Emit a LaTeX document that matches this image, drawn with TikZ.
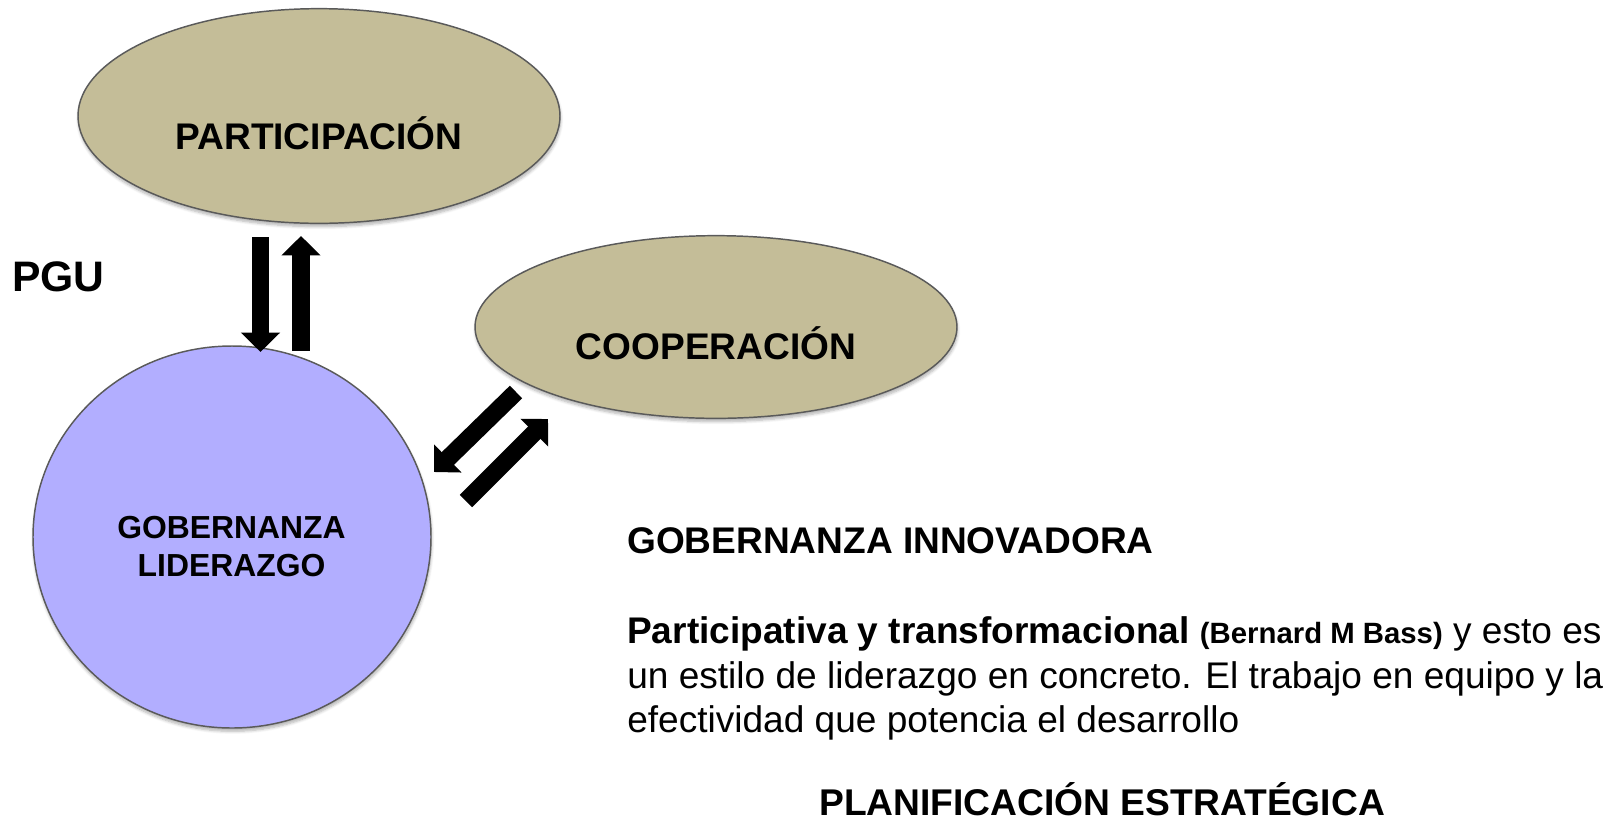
\documentclass[tikz,border=0pt]{standalone}
\usepackage{fontspec}
\setmainfont{Liberation Sans}
\usetikzlibrary{shapes.geometric,arrows.meta,shadows.blur}

\begin{document}
\begin{tikzpicture}[x=0.75pt,y=0.75pt,yscale=-1,xscale=1,
    topic/.style={ellipse, inner sep=0pt, draw={rgb, 255:red, 90; green, 90; blue, 90}, line width=1.1pt,
        fill={rgb, 255:red, 196; green, 189; blue, 152},
        blur shadow={shadow xshift=0.5pt, shadow yshift=-2.5pt, shadow opacity=30, shadow blur steps=6}},
    leader/.style={topic, fill={rgb, 255:red, 178; green, 174; blue, 255}},
    biglbl/.style={anchor=base, inner sep=0pt, font=\bfseries\fontsize{27.8}{33}\selectfont},
    smalllbl/.style={anchor=base, inner sep=0pt, font=\bfseries\fontsize{23.9}{28.5}\selectfont},
    txt/.style={anchor=base west, inner sep=0pt, font=\fontsize{27.8}{33.4}\selectfont},
    blockarrow/.style={line width=13.2pt, -{Triangle[length=14.5pt,width=28.5pt]}}
]
\useasboundingbox (0,0) rectangle (1620,822);

%Ellipses
\node [topic, minimum width=361.5pt, minimum height=161pt] (part) at (319,116) {};
\node [topic, minimum width=361.5pt, minimum height=137pt] (coop) at (716,327) {};
\node [leader, minimum width=298.5pt, minimum height=286.5pt] (gob) at (232,537) {};

% Text Node
\node [biglbl] (partlbl) at (319,149) {PARTICIPACIÓN};
\node [biglbl] (cooplbl) at (716,359) {COOPERACIÓN};
\node [smalllbl] (gob1) at (231.5,538) {GOBERNANZA};
\node [smalllbl] (gob2) at (231.5,576) {LIDERAZGO};
\node [txt, font=\bfseries\fontsize{32}{38}\selectfont] (pgu) at (12,291) {PGU};

\node [txt, font=\bfseries\fontsize{27.8}{33}\selectfont] (innov) at (627,553) {GOBERNANZA INNOVADORA};
\node [txt] (par1) at (627,643) {\textbf{Participativa y transformacional} {\bfseries\fontsize{22}{26}\selectfont (Bernard M Bass)} y esto es};
\node [txt] (par2) at (627,688) {un estilo de liderazgo en concreto. El trabajo en equipo y la};
\node [txt] (par3) at (627,732) {efectividad que potencia el desarrollo};
\node [txt, font=\bfseries\fontsize{27.9}{33}\selectfont] (plan) at (819,815) {PLANIFICACIÓN ESTRATÉGICA};

%Block arrows
\coordinate (d1) at (260.5,237);
\coordinate (d2) at (260.5,352);
\coordinate (u1) at (301,351);
\coordinate (u2) at (301,236);
\coordinate (a1) at (516,392);
\coordinate (a2) at (434,472);
\coordinate (b1) at (466,501);
\coordinate (b2) at (548,419);
\draw [blockarrow] (d1) -- (d2);
\draw [blockarrow] (u1) -- (u2);
\draw [blockarrow] (a1) -- (a2);
\draw [blockarrow] (b1) -- (b2);

\end{tikzpicture}
\end{document}
